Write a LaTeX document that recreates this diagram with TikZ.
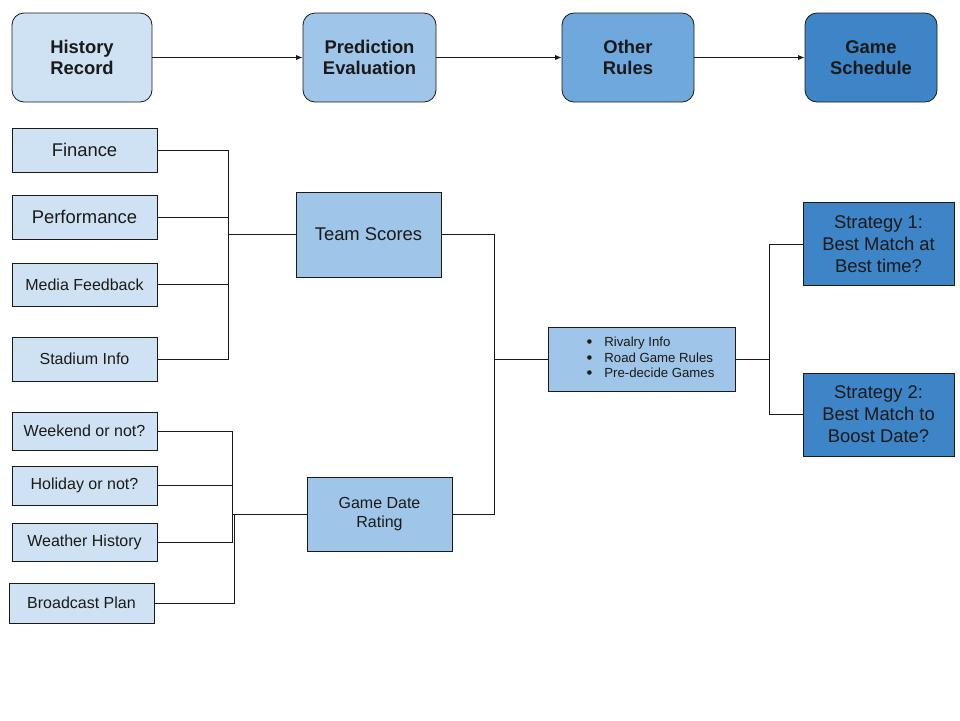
\documentclass[tikz,border=0pt]{standalone}
\usepackage{fontspec}
\setmainfont{Liberation Sans}
\usepackage{tikz}
\usetikzlibrary{arrows.meta}

\definecolor{paleblue}{HTML}{CFE2F3}
\definecolor{lightblue}{HTML}{9FC5E8}
\definecolor{midblue}{HTML}{6FA8DC}
\definecolor{deepblue}{HTML}{3D85C6}
\definecolor{ink}{HTML}{1A1A1A}

\newcommand{\dotmark}{\raisebox{-0.5pt}{\fontsize{8.3}{7.8}\selectfont•}}

\begin{document}
\begin{tikzpicture}[x=0.5pt,y=-0.5pt,
	stage/.style={draw=ink,rounded corners=6pt,minimum width=66pt,minimum height=44.5pt,inner sep=0pt,align=center,text=ink,font=\fontsize{9.2}{10.8}\selectfont\bfseries},
	factor/.style={draw=ink,fill=paleblue,minimum width=72.5pt,inner sep=0pt,align=center,text=ink},
	bigtext/.style={font=\fontsize{9.2}{10.8}\selectfont},
	smalltext/.style={font=\fontsize{8}{9.2}\selectfont},
	score/.style={draw=ink,fill=lightblue,minimum width=72.5pt,inner sep=0pt,align=center,text=ink},
	strategy/.style={draw=ink,fill=deepblue,minimum width=75.5pt,minimum height=41.5pt,inner sep=0pt,align=center,text=ink,font=\fontsize{9.2}{11}\selectfont},
	link/.style={draw=ink,line width=0.5pt},
	flow/.style={link,-{Latex[length=3.2pt,width=2.6pt]}}]
	\useasboundingbox (0,0) rectangle (960,720);

	% pipeline
	\node[stage,fill=paleblue,minimum width=70pt] (hist) at (82,57.5) {History\\Record};
	\node[stage,fill=lightblue,minimum width=66.5pt] (pred) at (369.5,57.5) {Prediction\\Evaluation};
	\node[stage,fill=midblue] (other) at (628,57.5) {Other\\Rules};
	\node[stage,fill=deepblue] (sched) at (871,57.5) {Game\\Schedule};
	\draw[flow] (hist) -- (pred);
	\draw[flow] (pred) -- (other);
	\draw[flow] (other) -- (sched);

	% team factors
	\node[factor,bigtext,minimum height=22pt] (fin) at (84.5,150) {Finance};
	\node[factor,bigtext,minimum height=22pt] (perf) at (84.5,217) {Performance};
	\node[factor,smalltext,minimum height=21.5pt] (media) at (84.5,284.5) {Media Feedback};
	\node[factor,smalltext,minimum height=22pt] (stad) at (84.5,359) {Stadium Info};
	\node[score,bigtext,minimum height=42.5pt] (team) at (368.5,234.5) {Team Scores};

	% date factors
	\node[factor,smalltext,minimum height=19pt] (wkd) at (84.5,431) {Weekend or not?};
	\node[factor,smalltext,minimum height=19.5pt] (hol) at (84.5,485.5) {Holiday or not?};
	\node[factor,smalltext,minimum height=19pt] (wea) at (84.5,542) {Weather History};
	\node[factor,smalltext,minimum height=20pt] (brd) at (81.5,603) {Broadcast Plan};
	\node[score,smalltext,minimum height=37pt] (date) at (379.5,514) {Game Date\\Rating};

	% rules and strategies
	\node[score,minimum width=93.5pt,minimum height=32pt,font=\fontsize{6.6}{7.8}\selectfont] (rules) at (641.5,359)
		{\begin{tabular}{@{\hspace{9pt}}l@{\hspace{6pt}}l@{}}\dotmark&Rivalry Info\\\dotmark&Road Game Rules\\\dotmark&Pre-decide Games\end{tabular}};
	\node[strategy] (st1) at (878.5,244) {Strategy 1:\\Best Match at\\Best time?};
	\node[strategy] (st2) at (878.5,414.5) {Strategy 2:\\Best Match to\\Boost Date?};

	\coordinate (teambus) at (228,234.5);
	\coordinate (datebus) at (232,514);
	\coordinate (castbus) at (234,514);
	\coordinate (midbus) at (494,359);
	\coordinate (stratbus) at (769,359);

	\draw[link] (fin.east) -| (teambus);
	\draw[link] (stad.east) -| (teambus);
	\draw[link] (perf.east) -- (perf.east -| teambus);
	\draw[link] (media.east) -- (media.east -| teambus);
	\draw[link] (teambus) -- (team.west);

	\draw[link] (wkd.east) -| (datebus);
	\draw[link] (hol.east) -- (hol.east -| datebus);
	\draw[link] (wea.east) -| (datebus);
	\draw[link] (brd.east) -| (castbus);
	\draw[link] (datebus) -- (date.west);

	\draw[link] (team.east) -| (midbus);
	\draw[link] (date.east) -| (midbus);
	\draw[link] (midbus) -- (rules.west);

	\draw[link] (rules.east) -- (stratbus);
	\draw[link] (stratbus) |- (st1.west);
	\draw[link] (stratbus) |- (st2.west);
\end{tikzpicture}
\end{document}
